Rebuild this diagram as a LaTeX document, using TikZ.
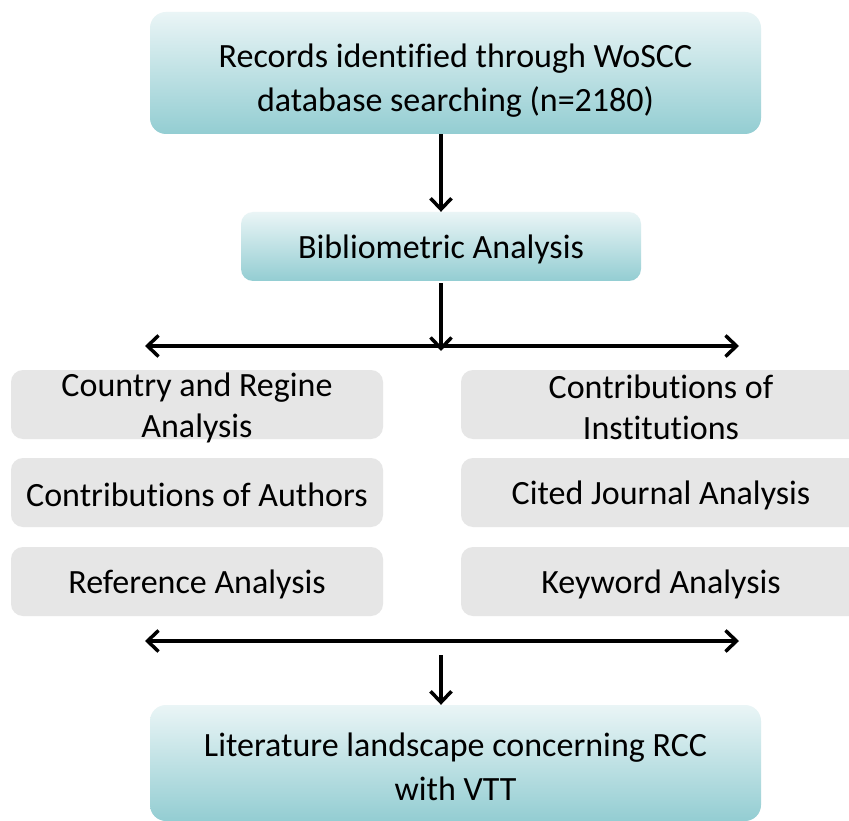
\documentclass[tikz,border=0pt]{standalone}
\usepackage{fontspec}
\setmainfont{Carlito}[Ligatures=NoCommon]
\usetikzlibrary{arrows.meta}
\definecolor{tealtop}{HTML}{EAF5F6}
\definecolor{tealbot}{HTML}{93CDD2}
\definecolor{greybox}{HTML}{E6E6E6}
\begin{document}
\begin{tikzpicture}[x=1pt,y=-1pt,
  tealbox/.style={rounded corners=16pt, top color=tealtop, bottom color=tealbot, draw=none, inner sep=0pt},
  greyitem/.style={rounded corners=12pt, fill=greybox, draw=none, inner sep=0pt, minimum height=69pt},
  tealtext/.style={align=center, font=\fontsize{34}{44}\selectfont, inner sep=0pt},
  greytext/.style={align=center, font=\fontsize{34}{41}\selectfont, inner sep=0pt},
  tip/.tip={Straight Barb[length=11pt,width=21pt,line width=3.5pt]},
  flow/.style={line width=3.5pt, -tip},
  both/.style={line width=3.5pt, tip-tip}
]
\useasboundingbox (0,0) rectangle (849,821);
\fill[white] (0,0) rectangle (849,821);
% boxes
\node[tealbox, minimum width=611pt, minimum height=122pt] (rec) at (455.5,73) {};
\node[tealbox, minimum width=400pt, minimum height=69pt, rounded corners=12pt] (bib) at (441,246.5) {};
\node[greyitem, minimum width=372pt] (c1) at (197,404.5) {};
\node[greyitem, minimum width=400pt] (i1) at (661,404.5) {};
\node[greyitem, minimum width=372pt] (a1) at (197,492.5) {};
\node[greyitem, minimum width=400pt] (j1) at (661,492.5) {};
\node[greyitem, minimum width=372pt] (r1) at (197,581.5) {};
\node[greyitem, minimum width=400pt] (k1) at (661,581.5) {};
\node[tealbox, minimum width=611pt, minimum height=116pt] (lit) at (455.5,763) {};
% texts
\node[tealtext, yshift=-7.5pt] (rect) at (rec) {Records identified through WoSCC\\database searching (n=2180)};
\node[tealtext, yshift=-3pt] (bibt) at (bib) {Bibliometric Analysis};
\node[greytext, yshift=-3pt] (c1t) at (c1) {Country and Regine\\Analysis};
\node[greytext, yshift=-3pt] (i1t) at (i1) {Contributions of\\Institutions};
\node[greytext, yshift=-2.5pt] (a1t) at (a1) {Contributions of Authors};
\node[greytext, yshift=-2.5pt] (j1t) at (j1) {Cited Journal Analysis};
\node[greytext, yshift=-3pt] (r1t) at (r1) {Reference Analysis};
\node[greytext, yshift=-3pt] (k1t) at (k1) {Keyword Analysis};
\node[tealtext, yshift=-4pt] (litt) at (lit) {Literature landscape concerning RCC\\with VTT};
% connectors
\coordinate (hl1) at (145,346);
\coordinate (hr1) at (739,346);
\coordinate (hm1) at (441,346);
\coordinate (hl2) at (145,641);
\coordinate (hr2) at (739,641);
\coordinate (hm2) at (441,655);
\draw[flow] (rec.south -| bib.north) -- (bib.north);
\draw[flow] (bib.south) ++(0,2) -- ([yshift=-5pt]hm1);
\draw[both] (hl1) -- (hr1);
\draw[both] (hl2) -- (hr2);
\draw[flow] (hm2) -- (lit.north -| hm2);
\end{tikzpicture}
\end{document}
